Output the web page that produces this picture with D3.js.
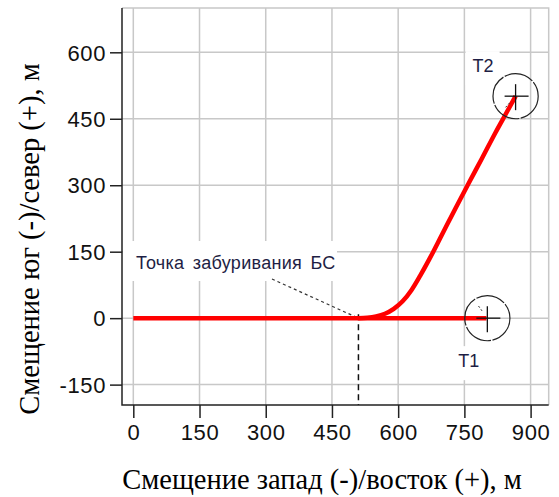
<!DOCTYPE html>
<html><head><meta charset="utf-8">
<script src="https://cdn.jsdelivr.net/npm/d3@7"></script>
<style>
html,body{margin:0;padding:0;background:#fff;}
svg{display:block;}
</style></head>
<body>
<svg id="c" width="559" height="497"></svg>
<script>
// ---- data ----
const xTicks = [0, 150, 300, 450, 600, 750, 900];
const yTicks = [-150, 0, 150, 300, 450, 600];
const xDomain = [-25.6, 941];
const yDomain = [-196, 700];
// main bore: east offset, north offset (m)
const mainX = [0, 800];
const mainY = [0, 0];
// sidetrack from kick-off point to T2
const sideX = [510, 530, 550, 570, 590, 610, 630, 650, 670, 700, 730, 760, 790, 820, 845, 866];
const sideY = [0, 1, 4, 10, 21, 38, 63, 96, 132, 190, 248, 305, 361, 418, 463, 501];
const targetNames = ["T1", "T2"];
const targetX = [802, 866];
const targetY = [0, 501];
const kickoffX = 510, kickoffY = 0;
const kickoffLabel = "Точка забуривания БС";
const xTitle = "Смещение запад (-)/восток (+), м";
const yTitle = "Смещение юг (-)/север (+), м";

// ---- layout ----
const L = 122, R = 548.7, T = 8, B = 405;
const svg = d3.select("#c");
const x = d3.scaleLinear().domain(xDomain).range([L, R]);
const y = d3.scaleLinear().domain(yDomain).range([B, T]);

// grid
const g = svg.append("g");
g.selectAll("line.vg").data(xTicks).join("line")
  .attr("x1", d => x(d)).attr("x2", d => x(d)).attr("y1", T).attr("y2", B)
  .attr("stroke", "#c8c8c8").attr("stroke-width", 1.5);
g.selectAll("line.hg").data(yTicks).join("line")
  .attr("x1", L).attr("x2", R).attr("y1", d => y(d)).attr("y2", d => y(d))
  .attr("stroke", "#c8c8c8").attr("stroke-width", 1.5);
// top/right border
g.append("path").attr("d", `M${L},${T}H${R}V${B}`).attr("fill", "none")
  .attr("stroke", "#c8c8c8").attr("stroke-width", 1.5);

// axes
const fontTick = "'Liberation Sans', Arial, sans-serif";
const fmt = d => String(d);
const ax = svg.append("g").attr("transform", `translate(0,${B})`)
  .call(d3.axisBottom(x).tickValues(xTicks).tickFormat(fmt).tickSize(13).tickPadding(6).tickSizeOuter(0));
const ay = svg.append("g").attr("transform", `translate(${L},0)`)
  .call(d3.axisLeft(y).tickValues(yTicks).tickFormat(fmt).tickSize(12).tickPadding(4).tickSizeOuter(0));
[ax, ay].forEach(a => {
  a.select(".domain").remove();
  a.selectAll("line").attr("stroke", "#222").attr("stroke-width", 1.5);
  a.selectAll("text").attr("font-family", fontTick).attr("font-size", 22)
    .attr("letter-spacing", 0.6).attr("fill", "#111");
});
ay.selectAll("text").attr("dy", "0.35em");
// axis lines (left and bottom)
svg.append("path").attr("d", `M${L},${T}V${B}H${R}`).attr("fill", "none")
  .attr("stroke", "#222").attr("stroke-width", 1.5);

// label background boxes (hide grid)
const boxes = svg.append("g");
const annFont = "'Liberation Sans', Arial, sans-serif";
const annColor = "#1e1e44";

// kickoff label
boxes.append("rect").attr("x", L + 1).attr("y", 241).attr("width", 214).attr("height", 40).attr("fill", "#fff");
// T1 / T2 label boxes
const labelOff = [{dx: -29, dy: 49}, {dx: -43, dy: -24}];
targetNames.forEach((n, i) => {
  const cx = x(targetX[i]) + labelOff[i].dx, cy = y(targetY[i]) + labelOff[i].dy;
  boxes.append("rect").attr("x", cx - 7).attr("y", cy - 21).attr("width", 34).attr("height", 34).attr("fill", "#fff");
});

svg.append("text").attr("x", 136).attr("y", 269)
  .attr("font-family", annFont).attr("font-size", 18).attr("fill", annColor)
  .attr("letter-spacing", 0.3).attr("word-spacing", 3).text(kickoffLabel);

// leader dashed line
svg.append("line").attr("x1", 272).attr("y1", 279).attr("x2", x(kickoffX)).attr("y2", y(kickoffY))
  .attr("stroke", "#333").attr("stroke-width", 1.2).attr("stroke-dasharray", "3,3");
svg.append("line").attr("x1", x(kickoffX)).attr("y1", y(kickoffY) - 4).attr("x2", x(kickoffX)).attr("y2", B)
  .attr("stroke", "#111").attr("stroke-width", 1.5).attr("stroke-dasharray", "6,4");

// trajectories
const line = d3.line().x(d => x(d[0])).y(d => y(d[1])).curve(d3.curveMonotoneX);
svg.append("path").datum(mainX.map((v, i) => [v, mainY[i]]))
  .attr("d", d3.line().x(d => x(d[0])).y(d => y(d[1])))
  .attr("fill", "none").attr("stroke", "#ff0000").attr("stroke-width", 4.5);
svg.append("path").datum(sideX.map((v, i) => [v, sideY[i]]))
  .attr("d", line).attr("fill", "none").attr("stroke", "#ff0000").attr("stroke-width", 4.5)
  .attr("stroke-linejoin", "round");

// targets
const radialAng = [2.2, -2.3];
targetNames.forEach((n, i) => {
  const cx = x(targetX[i]), cy = y(targetY[i]);
  svg.append("circle").attr("cx", cx).attr("cy", cy).attr("r", 22.6)
    .attr("fill", "none").attr("stroke", "#222").attr("stroke-width", 1.2).attr("stroke-dasharray", "30,1.5");
  svg.append("line").attr("x1", cx - 11).attr("x2", cx + 13).attr("y1", cy).attr("y2", cy)
    .attr("stroke", "#111").attr("stroke-width", 1.3);
  svg.append("line").attr("x1", cx).attr("x2", cx).attr("y1", cy - 12).attr("y2", cy + 14)
    .attr("stroke", "#111").attr("stroke-width", 1.3);
  const a = radialAng[i];
  svg.append("line")
    .attr("x1", cx + Math.cos(a) * 9).attr("y1", cy - Math.sin(a) * 9)
    .attr("x2", cx + Math.cos(a) * 15).attr("y2", cy - Math.sin(a) * 15)
    .attr("stroke", "#333").attr("stroke-width", 1).attr("stroke-dasharray", "2,2");
  svg.append("text").attr("x", cx + labelOff[i].dx).attr("y", cy + labelOff[i].dy)
    .attr("font-family", annFont).attr("font-size", 18).attr("fill", annColor).text(n);
});

// axis titles
const fontTitle = "'Liberation Serif', 'Times New Roman', serif";
svg.append("text").attr("x", 322).attr("y", 489).attr("text-anchor", "middle")
  .attr("font-family", fontTitle).attr("font-size", 28.5).attr("fill", "#000").text(xTitle);
svg.append("text").attr("transform", "translate(39,239) rotate(-90)").attr("text-anchor", "middle")
  .attr("font-family", fontTitle).attr("font-size", 28.5).attr("fill", "#000").text(yTitle);
</script>
</body></html>
